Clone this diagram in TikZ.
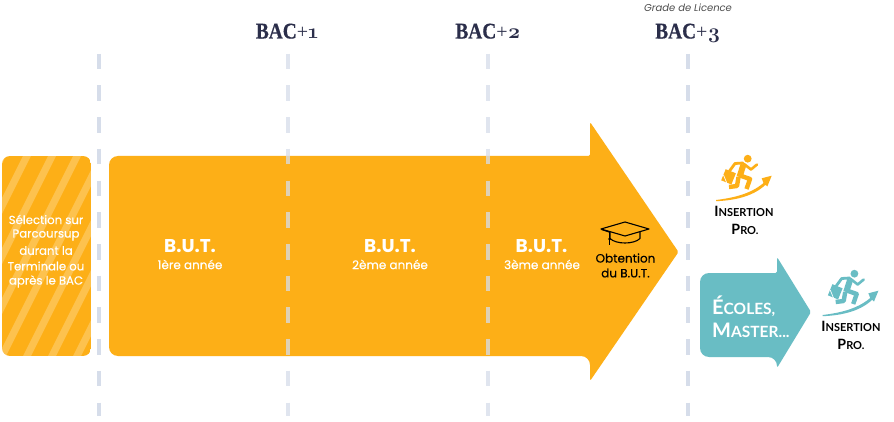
\documentclass[tikz,border=0pt]{standalone}
\usepackage{fontspec}
\setmainfont{Lato}
\newfontfamily\headfont[BoldFeatures={FakeBold=0.5}]{Liberation Serif}
\newfontfamily\numfont[Numbers=OldStyle]{Latin Modern Roman}
\newfontfamily\bodyfont{Poppins}
\newfontfamily\medfont[FakeBold=0.35]{Poppins}
\usetikzlibrary{calc}
\definecolor{orangeA}{HTML}{FDAF17}
\definecolor{tealA}{HTML}{69BDC4}
\definecolor{dashA}{HTML}{D6DDEA}
\definecolor{navyA}{HTML}{2B2E4A}
\newcommand{\smc}[2]{{\fontsize{#2}{#2}\selectfont #1}}
\newcommand{\bacend}[1]{\scalebox{.86}[1]{BAC}{\fontseries{m}\fontsize{20}{20}\selectfont +}{\numfont\bfseries\fontsize{21}{21}\selectfont #1}}
\tikzset{
  x=1pt,y=-1pt,
  dashline/.style={line width=3.6pt,draw=dashA,dash pattern=on 15.5pt off 16.2pt},
  dashover/.style={line width=3.6pt,draw=dashA,draw opacity=.75,dash pattern=on 15.5pt off 16.2pt},
  head/.style={font=\headfont\bfseries\fontsize{22.5}{22.5}\selectfont,text=navyA,inner sep=0pt,anchor=base},
  butt/.style={font=\bodyfont\bfseries\fontsize{18.5}{18.5}\selectfont,text=white,inner sep=0pt},
  year/.style={font=\medfont\fontsize{12}{12}\selectfont,text=white,inner sep=0pt},
  seltext/.style={font=\medfont\fontsize{11.7}{11.7}\selectfont,text=white,inner sep=0pt},
  obt/.style={font=\medfont\fontsize{12}{12}\selectfont,text=black,inner sep=0pt},
  insert/.style={font=\bfseries\fontsize{14.2}{14.2}\selectfont,text=black,inner sep=0pt},
  ecole/.style={font=\bfseries\fontsize{20}{20}\selectfont,text=white,inner sep=0pt,anchor=west},
  runner/.pic={
    \fill[#1] (37.7,8.7) circle (3.9);
    \draw[#1,line width=6pt] (33.5,14.5) -- (29.5,27);
    \draw[#1,line width=2.6pt,line cap=round,line join=round] (34,14) -- (41,19.5) -- (47,14.5);
    \draw[#1,line width=2.8pt,line cap=round,line join=round] (33,13) -- (25,13.5) -- (19.5,21);
    \draw[#1,line width=4.4pt,line join=round] (30,25.5) -- (40,29) -- (36.5,39);
    \draw[#1,line width=4.4pt,line join=round] (28.5,27) -- (27,36) -- (19,37);
    \fill[#1,rotate around={-22:(19,27)}] (13,21) rectangle (24,33);
    \draw[white,line width=.7pt] (13.5,25) -- (18,36);
    \fill[#1] (6,50) .. controls (22,48) and (40,44.5) .. (53.5,33) -- (51.7,28.3) -- (61.7,25.7) -- (57.3,36.5) -- (55.5,34.8) .. controls (42,47.5) and (22,50.5) .. (6,51.2) -- cycle;
  }
}
\begin{document}
\begin{tikzpicture}
\useasboundingbox (0,0) rectangle (894,422);
\fill[white] (0,0) rectangle (894,422);
% dashed rules
\coordinate (d0t) at (99,53.8); \coordinate (d0b) at (99,416);
\coordinate (d1t) at (288,53.8); \coordinate (d1b) at (288,416);
\coordinate (d2t) at (488,53.8); \coordinate (d2b) at (488,416);
\coordinate (d3t) at (688,53.8); \coordinate (d3b) at (688,416);
\draw[dashline] (d0t) -- (d0b);
\draw[dashline] (d3t) -- (d3b);
% selection box
\begin{scope}
\path[clip,rounded corners=8pt] (2,156) rectangle (91,356);
\fill[orangeA] (2,156) rectangle (91,356);
\foreach \k in {-4,...,9}
  \fill[white,opacity=.24] ({\k*25-2},356) -- ({\k*25+6},356) -- ({\k*25+106},156) -- ({\k*25+98},156) -- cycle;
\end{scope}
% main arrow
\fill[orangeA,rounded corners=9pt] (590,156) -- (109,156) -- (109,356) -- (590,356) [rounded corners=1.5pt] -- (590,381) -- (678.5,252) -- (590,122) -- cycle;
\draw[dashover] (d1t) -- (d1b);
\draw[dashover] (d2t) -- (d2b);
% teal arrow
\fill[tealA,rounded corners=9pt] (777,273) -- (700,273) -- (700,357) -- (777,357) [rounded corners=1.5pt] -- (777,368) -- (811,312) -- (777,257) -- cycle;
% headers
\node[head] (bac1) at (287,38.5) {\bacend{1}};
\node[head] (bac2) at (488,38.5) {\bacend{2}};
\node[head] (bac3) at (688,38.5) {\bacend{3}};
\node[inner sep=0pt,font=\bodyfont\itshape\fontsize{10}{10}\selectfont,text=black!70] (grade) at (688,8) {Grade de Licence};
% selection text
\node[seltext] (s1) at (46,219.5) {Sélection sur};
\node[seltext] (s2) at (46,235) {Parcoursup};
\node[seltext] (s3) at (46,250.5) {durant la};
\node[seltext] (s4) at (46,266) {Terminale ou};
\node[seltext] (s5) at (46,281.5) {après le BAC};
% years
\node[butt] (b1) at (190,246) {B.U.T.};
\node[year] (y1) at (190,264.5) {1ère année};
\node[butt] (b2) at (390,246) {B.U.T.};
\node[year] (y2) at (390,264.5) {2ème année};
\node[butt] (b3) at (541.5,246) {B.U.T.};
\node[year] (y3) at (542,264.5) {3ème année};
% hat
\begin{scope}[shift={(590,215)},line width=1.1pt,line join=round,draw=black]
\draw (11,14) -- (35,7) -- (59,14) -- (35,21) -- cycle;
\draw (20,17) -- (20,23.5) .. controls (26,29.5) and (44,29.5) .. (50,23.5) -- (50,17);
\draw (11.5,14.5) -- (19,17);
\draw (19.5,17) -- (19.5,30);
\fill (19.5,24) circle (1.5);
\end{scope}
\node[obt] (o1) at (625.5,258) {Obtention};
\node[obt] (o2) at (625.5,273) {du B.U.T.};
% runners
\pic at (710,150) {runner=orangeA};
\pic at (816.7,265) {runner=tealA};
\node[insert] (i1) at (744,211) {I\smc{NSERTION}{11}};
\node[insert] (p1) at (745,229) {P\smc{RO.}{11}};
\node[insert] (i2) at (851,326) {I\smc{NSERTION}{11}};
\node[insert] (p2) at (851,344) {P\smc{RO.}{11}};
% ecoles
\node[ecole] (e1) at (712,306) {É\smc{COLES,}{15.5}};
\node[ecole] (e2) at (712,330) {M\smc{ASTER...}{15.5}};
\end{tikzpicture}
\end{document}
